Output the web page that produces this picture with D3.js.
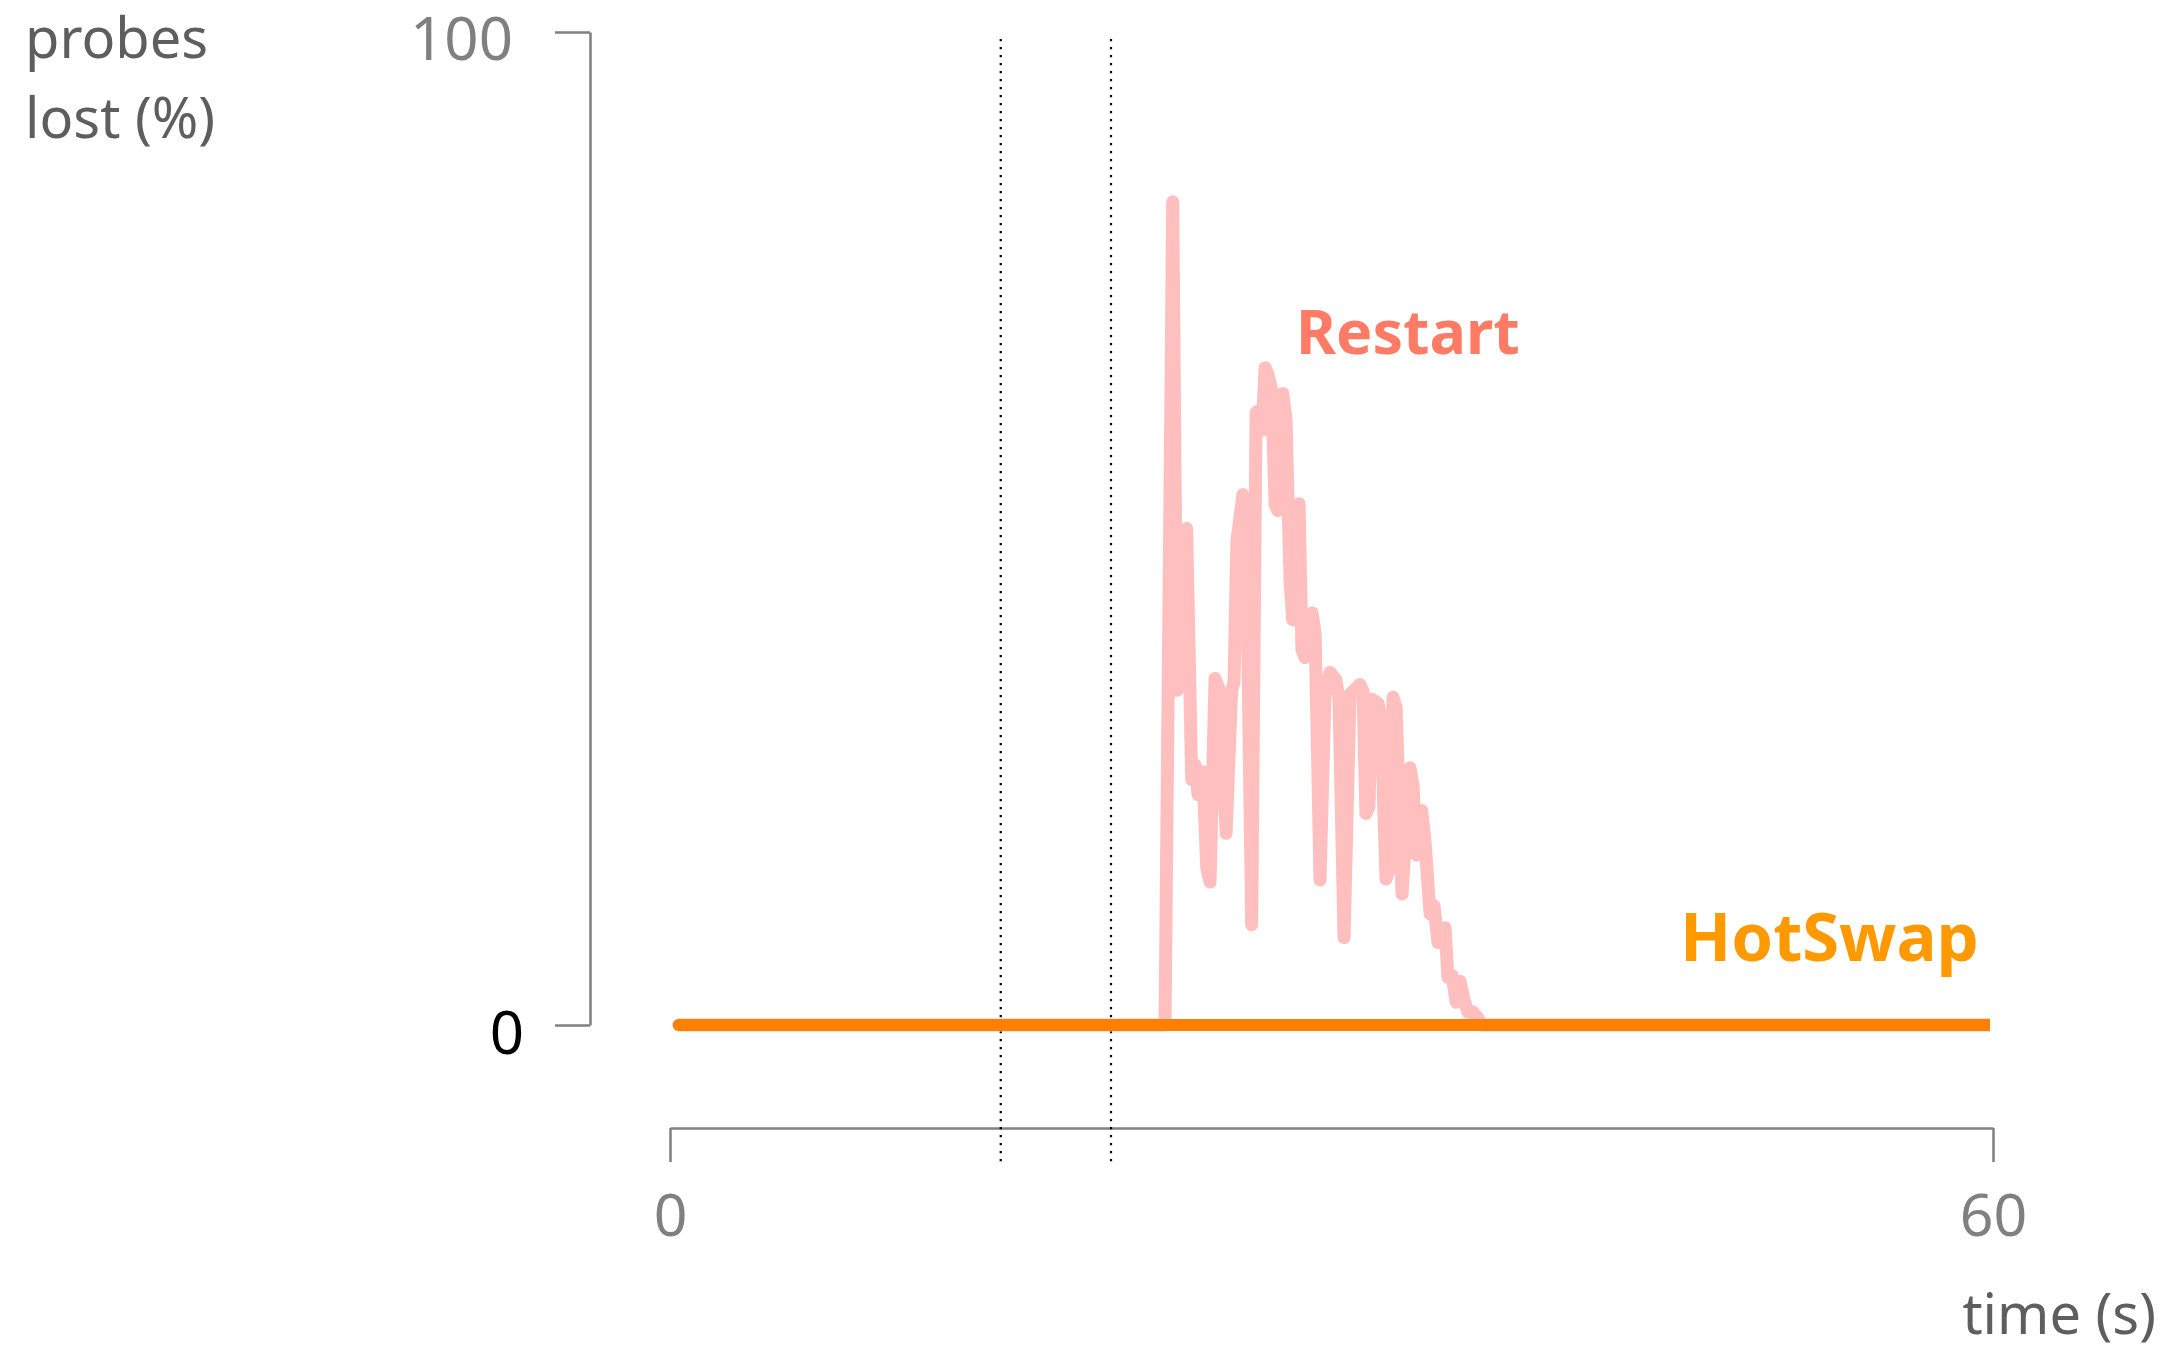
<!DOCTYPE html>
<html>
<head>
<meta charset="utf-8">
<script src="https://cdn.jsdelivr.net/npm/d3@7"></script>
<style>
  html, body { margin: 0; padding: 0; background: #ffffff; }
  svg { display: block; }
  text { font-family: "Noto Sans", "Open Sans", sans-serif; }
</style>
</head>
<body>
<script>
// ---- data ----
const restartTimes = [0.4, 22.45, 22.80, 22.99, 23.08, 23.43, 23.66, 23.81, 23.95, 24.17, 24.34, 24.49, 24.72, 24.94, 25.22, 25.47, 25.58, 25.71, 25.98, 26.12, 26.38, 26.58, 26.71, 26.85, 26.99, 27.12, 27.29, 27.44, 27.57, 27.79, 27.94, 28.12, 28.24, 28.34, 28.53, 28.66, 28.80, 29.12, 29.26, 29.48, 29.71, 29.93, 30.20, 30.34, 30.57, 30.84, 31.07, 31.29, 31.43, 31.56, 31.70, 31.82, 32.11, 32.25, 32.47, 32.60, 32.79, 32.93, 33.20, 33.56, 33.70, 33.86, 34.01, 34.09, 34.24, 34.47, 34.65, 34.83, 34.97, 35.15, 35.28, 35.47, 35.65, 35.83, 36.01, 36.19, 36.42, 36.64, 36.83, 60];
const restartValues = [0, 0, 82.9, 33.7, 34.2, 50.0, 24.7, 26.2, 23.2, 25.5, 15.9, 14.4, 34.9, 33.6, 19.3, 33.6, 34.6, 48.7, 53.4, 51.8, 10.1, 61.7, 61.9, 59.9, 66.2, 65.5, 63.9, 52.4, 51.8, 63.6, 60.9, 44.8, 40.8, 40.8, 52.5, 37.8, 37.0, 41.5, 39.3, 14.6, 33.8, 35.5, 34.8, 32.8, 8.8, 33.3, 33.8, 34.3, 33.6, 21.3, 22.0, 32.8, 32.4, 30.9, 14.7, 15.5, 33.0, 32.0, 13.2, 25.9, 24.1, 17.1, 17.3, 21.6, 18.5, 11.2, 12.0, 8.3, 9.1, 9.8, 4.8, 5.0, 2.3, 4.4, 2.5, 1.3, 1.3, 0.7, 0, 0];
const hotswapTimes = [0.4, 60];
const hotswapValues = [0, 0];
const eventTimes = [15, 20];
const xTicks = [0, 60];
const yTicks = [0, 100];
const xDomain = [0, 60];
const yDomain = [0, 100];
const seriesLabels = ["Restart", "HotSwap"];
const yTitle = ["probes", "lost (%)"];
const xTitle = "time (s)";

// ---- layout ----
const W = 2184, H = 1346;
const x = d3.scaleLinear().domain(xDomain).range([670, 1993]);
const y = d3.scaleLinear().domain(yDomain).range([1025, 32]);

const svg = d3.select("body").append("svg").attr("width", W).attr("height", H);
svg.append("rect").attr("width", W).attr("height", H).attr("fill", "#fff");

svg.append("defs").append("clipPath").attr("id", "plotclip")
  .append("rect").attr("x", 600).attr("y", 0).attr("width", 1990 - 600).attr("height", H);

// y axis
const yAxisG = svg.append("g").attr("transform", "translate(590,0)")
  .call(d3.axisLeft(y).tickValues(yTicks).tickSize(35).tickSizeOuter(0).tickFormat(d3.format("d")));
yAxisG.select(".domain").attr("stroke", "#808080").attr("stroke-width", 2.5);
yAxisG.selectAll(".tick line").attr("stroke", "#808080").attr("stroke-width", 2.5);
yAxisG.selectAll(".tick text")
  .attr("font-size", 60)
  .attr("font-family", "Noto Sans")
  .attr("dy", null)
  .attr("x", d => d === 0 ? -66 : -77)
  .attr("y", d => d === 0 ? 28 : 27)
  .attr("fill", d => d === 0 ? "#000000" : "#808080");

// x axis
const xAxisG = svg.append("g").attr("transform", "translate(0,1128)")
  .call(d3.axisBottom(x).tickValues(xTicks).tickSize(34).tickSizeOuter(0).tickFormat(d3.format("d")));
xAxisG.select(".domain").attr("stroke", "#808080").attr("stroke-width", 2.5);
xAxisG.selectAll(".tick text")
  .attr("font-size", 59)
  .attr("font-family", "Noto Sans")
  .attr("dy", null)
  .attr("y", 108)
  .attr("fill", "#808080");
xAxisG.selectAll(".tick line").attr("stroke", "#808080").attr("stroke-width", 2.5);

// axis titles
svg.append("text").attr("x", 25).attr("y", 58).attr("font-size", 56).attr("fill", "#5e5e5e").text(yTitle[0]);
svg.append("text").attr("x", 25).attr("y", 138).attr("font-size", 56).attr("fill", "#5e5e5e").text(yTitle[1]);
svg.append("text").attr("x", 2156).attr("y", 1334).attr("text-anchor", "end").attr("font-size", 56).attr("fill", "#5e5e5e").text(xTitle);

// event markers (dotted)
svg.selectAll("line.event").data(eventTimes).enter().append("line")
  .attr("class", "event")
  .attr("x1", d => x(d)).attr("x2", d => x(d))
  .attr("y1", 39).attr("y2", 1167)
  .attr("stroke", "#000").attr("stroke-width", 2.2)
  .attr("stroke-dasharray", "2.2,5.8");

const line = d3.line().x(d => x(d[0])).y(d => y(d[1]));
const plot = svg.append("g").attr("clip-path", "url(#plotclip)");

plot.append("path")
  .datum(restartTimes.map((t, i) => [t, restartValues[i]]))
  .attr("d", line)
  .attr("fill", "none")
  .attr("stroke", "#ffbfbf")
  .attr("stroke-width", 13)
  .attr("stroke-linejoin", "round")
  .attr("stroke-linecap", "round");

plot.append("path")
  .datum(hotswapTimes.map((t, i) => [t, hotswapValues[i]]))
  .attr("d", line)
  .attr("fill", "none")
  .attr("stroke", "#ff8000")
  .attr("stroke-width", 12)
  .attr("stroke-linejoin", "round")
  .attr("stroke-linecap", "round");

// series labels
svg.append("text").attr("x", 1296).attr("y", 354).attr("font-size", 61).attr("font-weight", "bold")
  .attr("fill", "#ff7b65").text(seriesLabels[0]);
svg.append("text").attr("x", 1680).attr("y", 961).attr("font-size", 67).attr("font-weight", "bold")
  .attr("fill", "#ff9900").text(seriesLabels[1]);
</script>
</body>
</html>
